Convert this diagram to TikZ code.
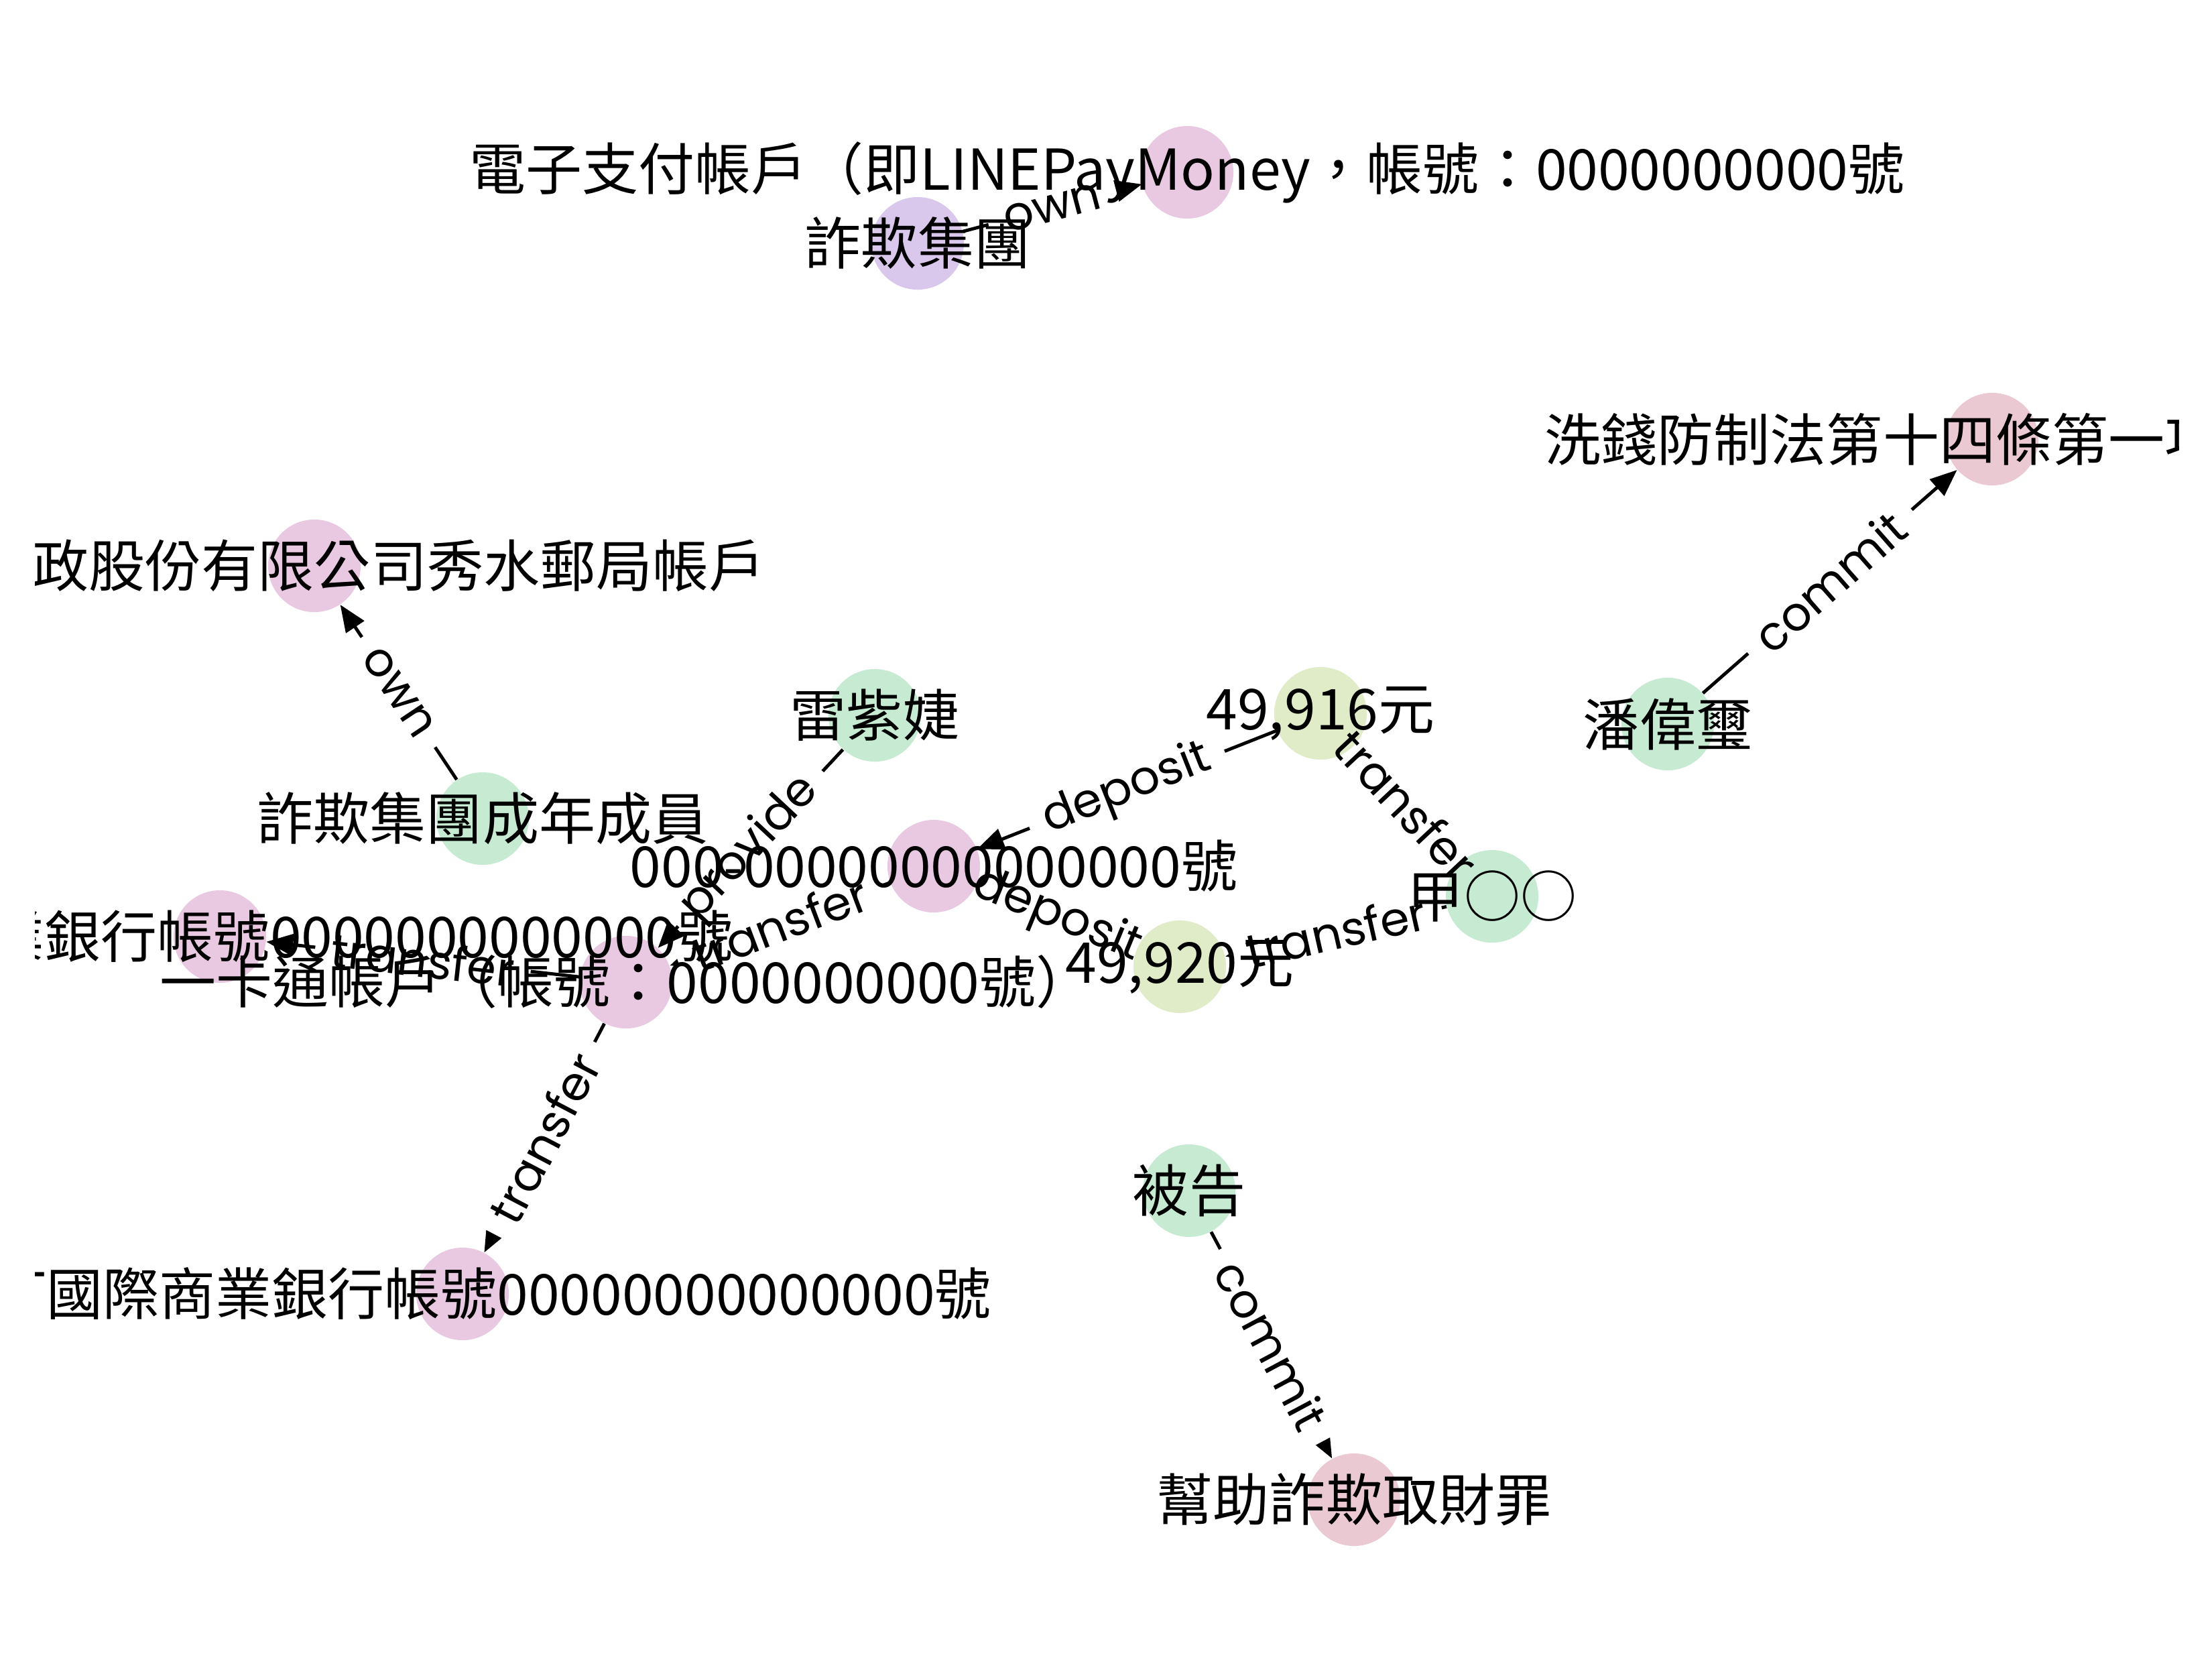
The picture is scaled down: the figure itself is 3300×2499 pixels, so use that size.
\documentclass[tikz,border=0pt]{standalone}
\usepackage{fontspec}
\setmainfont{Noto Sans CJK TC}
\newfontfamily\edgefont{Poppins}
\usetikzlibrary{arrows.meta}
\definecolor{cacct}{RGB}{233,201,225}
\definecolor{corg}{RGB}{217,200,236}
\definecolor{cper}{RGB}{198,235,210}
\definecolor{camt}{RGB}{224,235,200}
\definecolor{claw}{RGB}{235,201,210}
\tikzset{
  spot/.style={circle, minimum size=1.38cm, inner sep=0pt},
  dot/.style={spot, fill=#1},
  txt/.style={font=\fontsize{23.9}{28}\selectfont, inner sep=0pt},
  rel/.style={line width=1.4pt, -{Triangle[length=0.40cm,width=0.32cm]}},
  lblbase/.style={sloped, rounded corners=4pt, inner xsep=7pt, inner ysep=3pt,
    font=\edgefont\fontsize{20}{24}\selectfont},
  lbl/.style={lblbase, fill=white},
  lbltext/.style={lblbase},
}
\begin{document}
\begin{tikzpicture}[x=0.01cm,y=-0.01cm]
\useasboundingbox[fill=white] (0,0) rectangle (3300,2499);
% node positions (circle outlines, invisible)
\node[spot] (ePay)  at (1771,257)  {};
\node[spot] (grp)   at (1369,363)  {};
\node[spot] (law)   at (2972,655)  {};
\node[spot] (post)  at (469,844)   {};
\node[spot] (lei)   at (1305,1067) {};
\node[spot] (a916)  at (1970,1064) {};
\node[spot] (pan)   at (2488,1080) {};
\node[spot] (mem)   at (720,1221)  {};
\node[spot] (acc)   at (1393,1292) {};
\node[spot] (jia)   at (2226,1337) {};
\node[spot] (ctbc)  at (328,1397)  {};
\node[spot] (ipass) at (934,1465)  {};
\node[spot] (a920)  at (1760,1442) {};
\node[spot] (sc)    at (690,1930)  {};
\node[spot] (def)   at (1774,1776) {};
\node[spot] (crime) at (2020,2237) {};
% edges with white label boxes
\draw[rel] (grp) -- node[lbl]{\phantom{own}} (ePay);
\draw[rel] (mem) -- node[lbl]{\phantom{own}} (post);
\draw[rel] (pan) -- node[lbl]{\phantom{commit}} (law);
\draw[rel] (def) -- node[lbl]{\phantom{commit}} (crime);
\draw[rel] (a916) -- node[lbl]{\phantom{deposit}} (acc);
\draw[rel] (a920) -- node[lbl]{\phantom{deposit}} (acc);
\draw[rel] (jia) -- node[lbl]{\phantom{transfer}} (a916);
\draw[rel] (jia) -- node[lbl]{\phantom{transfer}} (a920);
\draw[rel] (acc) -- node[lbl]{\phantom{transfer}} (ipass);
\draw[rel] (lei) -- node[lbl]{\phantom{provide}} (ipass);
\draw[rel] (ipass) -- node[lbl]{\phantom{transfer}} (ctbc);
\draw[rel] (ipass) -- node[lbl]{\phantom{transfer}} (sc);
% filled circles
\node[dot=cacct] (ePayF)  at (ePay)  {};
\node[dot=corg]  (grpF)   at (grp)   {};
\node[dot=claw]  (lawF)   at (law)   {};
\node[dot=cacct] (postF)  at (post)  {};
\node[dot=cper]  (leiF)   at (lei)   {};
\node[dot=camt]  (a916F)  at (a916)  {};
\node[dot=cper]  (panF)   at (pan)   {};
\node[dot=cper]  (memF)   at (mem)   {};
\node[dot=cacct] (accF)   at (acc)   {};
\node[dot=cper]  (jiaF)   at (jia)   {};
\node[dot=cacct] (ctbcF)  at (ctbc)  {};
\node[dot=cacct] (ipassF) at (ipass) {};
\node[dot=camt]  (a920F)  at (a920)  {};
\node[dot=cacct] (scF)    at (sc)    {};
\node[dot=cper]  (defF)   at (def)   {};
\node[dot=claw]  (crimeF) at (crime) {};
% edge label texts
\path (grp) -- node[lbltext]{own} (ePay);
\path (mem) -- node[lbltext]{own} (post);
\path (pan) -- node[lbltext]{commit} (law);
\path (def) -- node[lbltext]{commit} (crime);
\path (a916) -- node[lbltext]{deposit} (acc);
\path (a920) -- node[lbltext]{deposit} (acc);
\path (jia) -- node[lbltext]{transfer} (a916);
\path (jia) -- node[lbltext]{transfer} (a920);
\path (acc) -- node[lbltext]{transfer} (ipass);
\path (lei) -- node[lbltext]{provide} (ipass);
\path (ipass) -- node[lbltext]{transfer} (ctbc);
\path (ipass) -- node[lbltext]{transfer} (sc);
% node texts
\begin{scope}
\clip (52,0) rectangle (3250,2499);
\node[txt] (tePay) at (ePay) {電子支付帳戶（即LINEPayMoney，帳號：0000000000號};
\node[txt] (tgrp) at (grp) {詐欺集團};
\node[txt, anchor=west] (tlaw) at (2304,655) {洗錢防制法第十四條第一項};
\node[txt] (tpost) at (post) {中華郵政股份有限公司秀水郵局帳戶};
\node[txt] (tlei) at (lei) {雷紫婕};
\node[txt] (ta916) at (a916) {49,916元};
\node[txt] (tpan) at (pan) {潘偉璽};
\node[txt] (tmem) at (mem) {詐欺集團成年成員};
\node[txt] (tacc) at (acc) {000-00000000000000號};
\node[txt] (tjia) at (jia) {甲○○};
\node[txt] (tctbc) at (ctbc) {中國信託商業銀行帳號0000000000000號};
\node[txt] (tipass) at (ipass) {一卡通帳戶（帳號：0000000000號）};
\node[txt] (ta920) at (a920) {49,920元};
\node[txt] (tsc) at (sc) {渣打國際商業銀行帳號00000000000000號};
\node[txt] (tdef) at (def) {被告};
\node[txt] (tcrime) at (crime) {幫助詐欺取財罪};
\end{scope}
\end{tikzpicture}
\end{document}
